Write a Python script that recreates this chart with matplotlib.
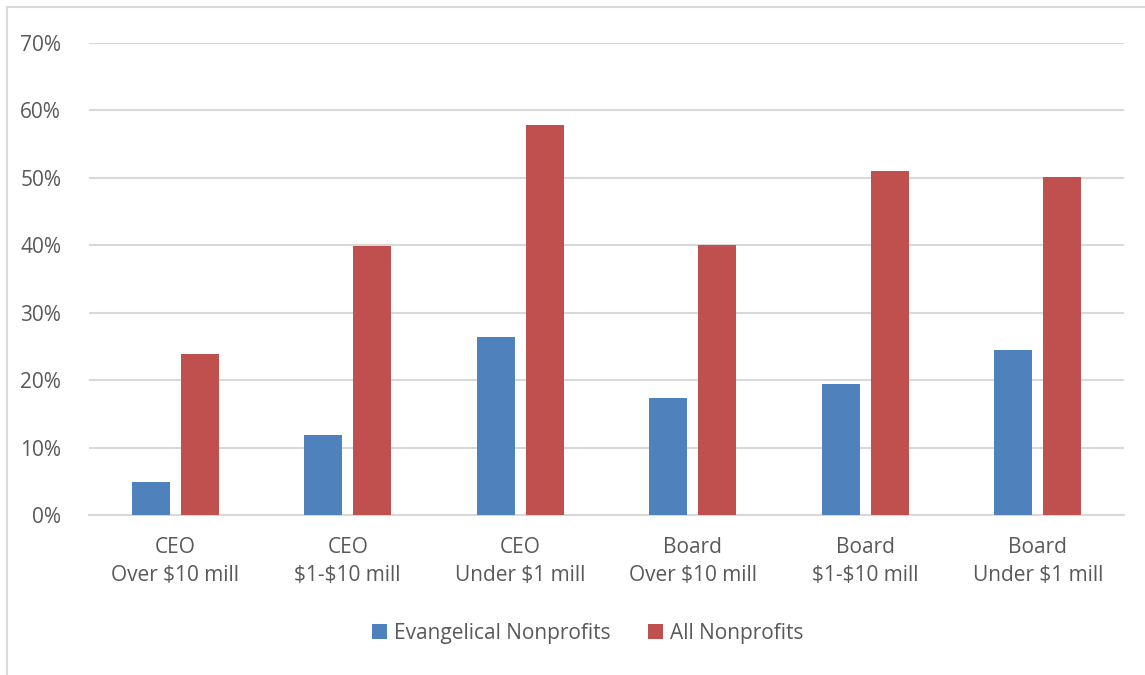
import numpy as np
import matplotlib
matplotlib.use("Agg")
import matplotlib.pyplot as plt
from matplotlib.lines import Line2D

categories = ["CEO\nOver $10 mill", "CEO\n$1-$10 mill", "CEO\nUnder $1 mill",
              "Board\nOver $10 mill", "Board\n$1-$10 mill", "Board\nUnder $1 mill"]
evangelical = [0.049, 0.119, 0.264, 0.174, 0.194, 0.245]
all_nonprofits = [0.239, 0.399, 0.578, 0.401, 0.510, 0.501]
yticks = [0.0, 0.1, 0.2, 0.3, 0.4, 0.5, 0.6, 0.7]
ytick_labels = ["0%", "10%", "20%", "30%", "40%", "50%", "60%", "70%"]

text_col = "#595959"
grid_col = "#D9D9D9"
blue = "#4F81BD"
red = "#C0504D"

plt.rcParams['font.family'] = ['Open Sans', 'DejaVu Sans']
plt.rcParams['text.parse_math'] = False

fig = plt.figure(figsize=(11.45, 6.75), dpi=100)
ax = fig.add_axes([89/1145, 1-515/675, (1124-89)/1145, (515-43)/675])

x = np.arange(len(categories))
w = 0.22
ax.bar(x - 0.142, evangelical, w, color=blue, label="Evangelical Nonprofits", zorder=3)
ax.bar(x + 0.142, all_nonprofits, w, color=red, label="All Nonprofits", zorder=3)

ax.set_xlim(-0.5, len(categories) - 0.5)
ax.set_ylim(0, 0.7)
ax.set_yticks(yticks)
ax.set_yticklabels(ytick_labels)
ax.set_xticks(x)
ax.set_xticklabels(categories, linespacing=1.45)
ax.yaxis.grid(True, color=grid_col, linewidth=1.5, zorder=0)
for s in ["top", "right", "left"]:
    ax.spines[s].set_visible(False)
ax.spines["bottom"].set_color(grid_col)
ax.spines["bottom"].set_linewidth(1.5)
ax.tick_params(axis="both", length=0, labelsize=15, colors=text_col)
ax.tick_params(axis="y", pad=20)
ax.tick_params(axis="x", pad=16)

fig.legend(loc="center", bbox_to_anchor=(588/1145, 1-633/675), ncol=2, frameon=False,
           fontsize=15, labelcolor=text_col, handlelength=0.7, handleheight=0.7,
           handletextpad=0.35, columnspacing=1.8)

# chart frame
fig.add_artist(Line2D([7/1145, 1], [1-7/675, 1-7/675], color=grid_col, linewidth=1.5))
fig.add_artist(Line2D([7/1145, 7/1145], [0, 1-7/675], color=grid_col, linewidth=1.5))

fig.savefig("out.png", dpi=100)
